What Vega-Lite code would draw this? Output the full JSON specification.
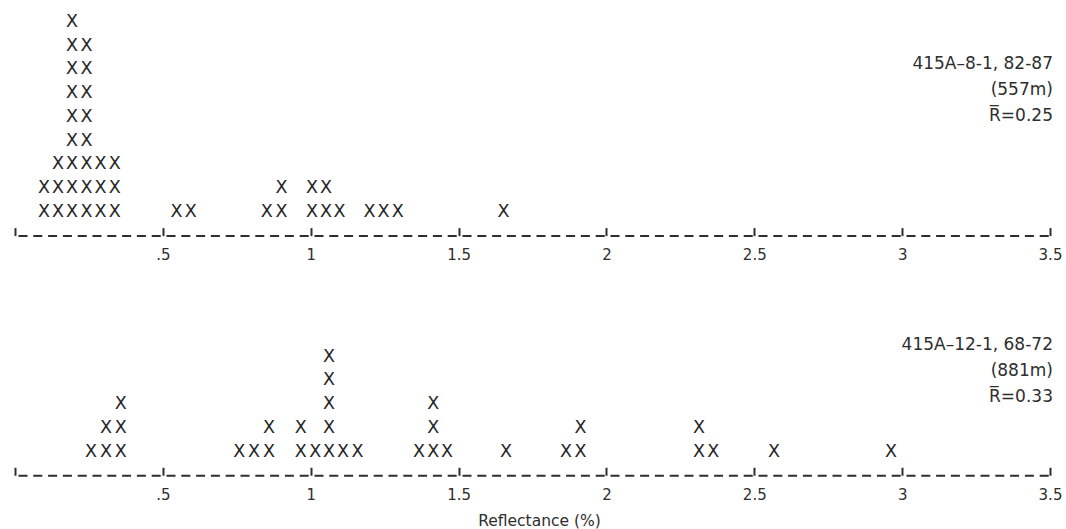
{
  "$schema": "https://vega.github.io/schema/vega-lite/v6.json",
  "background": "white",
  "padding": {"left": 14, "top": 10, "right": 0, "bottom": 0},
  "autosize": {"type": "pad"},
  "bounds": "flush",
  "spacing": 73,
  "config": {
    "view": {"stroke": null},
    "axis": {
      "grid": false,
      "domainColor": "#2e2e2e",
      "domainWidth": 2,
      "domainDash": [9, 5.8],
      "domainDashOffset": 11.8,
      "tickColor": "#2e2e2e",
      "tickWidth": 2,
      "tickSize": -8,
      "labelPadding": 20,
      "labelFont": "DejaVu Sans",
      "labelFontSize": 15,
      "labelColor": "#2e2e2e",
      "labelFlush": false,
      "labelOverlap": false,
      "titleFont": "DejaVu Sans",
      "titleFontSize": 15.5,
      "titleFontWeight": "normal",
      "titleColor": "#2e2e2e"
    }
  },
  "datasets": {
    "top": [
      {"r": 0.098, "k": 1}, {"r": 0.098, "k": 2},
      {"r": 0.145, "k": 1}, {"r": 0.145, "k": 2}, {"r": 0.145, "k": 3},
      {"r": 0.193, "k": 1}, {"r": 0.193, "k": 2}, {"r": 0.193, "k": 3}, {"r": 0.193, "k": 4}, {"r": 0.193, "k": 5}, {"r": 0.193, "k": 6}, {"r": 0.193, "k": 7}, {"r": 0.193, "k": 8}, {"r": 0.193, "k": 9},
      {"r": 0.242, "k": 1}, {"r": 0.242, "k": 2}, {"r": 0.242, "k": 3}, {"r": 0.242, "k": 4}, {"r": 0.242, "k": 5}, {"r": 0.242, "k": 6}, {"r": 0.242, "k": 7}, {"r": 0.242, "k": 8},
      {"r": 0.289, "k": 1}, {"r": 0.289, "k": 2}, {"r": 0.289, "k": 3},
      {"r": 0.337, "k": 1}, {"r": 0.337, "k": 2}, {"r": 0.337, "k": 3},
      {"r": 0.546, "k": 1},
      {"r": 0.594, "k": 1},
      {"r": 0.851, "k": 1},
      {"r": 0.901, "k": 1}, {"r": 0.901, "k": 2},
      {"r": 1.004, "k": 1}, {"r": 1.004, "k": 2},
      {"r": 1.052, "k": 1}, {"r": 1.052, "k": 2},
      {"r": 1.097, "k": 1},
      {"r": 1.199, "k": 1},
      {"r": 1.246, "k": 1},
      {"r": 1.294, "k": 1},
      {"r": 1.652, "k": 1}
    ],
    "bottom": [
      {"r": 0.257, "k": 1},
      {"r": 0.308, "k": 1}, {"r": 0.308, "k": 2},
      {"r": 0.358, "k": 1}, {"r": 0.358, "k": 2}, {"r": 0.358, "k": 3},
      {"r": 0.758, "k": 1},
      {"r": 0.808, "k": 1},
      {"r": 0.859, "k": 1}, {"r": 0.859, "k": 2},
      {"r": 0.966, "k": 1}, {"r": 0.966, "k": 2},
      {"r": 1.015, "k": 1},
      {"r": 1.062, "k": 1}, {"r": 1.062, "k": 2}, {"r": 1.062, "k": 3}, {"r": 1.062, "k": 4}, {"r": 1.062, "k": 5},
      {"r": 1.109, "k": 1},
      {"r": 1.158, "k": 1},
      {"r": 1.366, "k": 1},
      {"r": 1.414, "k": 1}, {"r": 1.414, "k": 2}, {"r": 1.414, "k": 3},
      {"r": 1.461, "k": 1},
      {"r": 1.66, "k": 1},
      {"r": 1.863, "k": 1},
      {"r": 1.912, "k": 1}, {"r": 1.912, "k": 2},
      {"r": 2.313, "k": 1}, {"r": 2.313, "k": 2},
      {"r": 2.361, "k": 1},
      {"r": 2.567, "k": 1},
      {"r": 2.962, "k": 1}
    ],
    "notesTop": [{"label": "415A–8-1, 82-87\n(557m)\nR̅=0.25"}],
    "notesBottom": [{"label": "415A–12-1, 68-72\n(881m)\nR̅=0.33"}]
  },
  "vconcat": [
    {
      "width": 1035,
      "height": 225.6,
      "layer": [
        {
          "data": {"name": "top"},
          "mark": {"type": "text", "font": "DejaVu Sans", "fontSize": 17.5, "color": "#262626", "align": "center", "baseline": "middle"},
          "encoding": {
            "x": {
              "field": "r", "type": "quantitative",
              "scale": {"domain": [0, 3.5], "nice": false, "zero": false},
              "axis": {
                "values": [0, 0.5, 1, 1.5, 2, 2.5, 3, 3.5],
                "format": "~g",
                "labelExpr": "datum.value == 0 ? '' : (datum.value == 0.5 ? '.5' : datum.label)",
                "title": null
              }
            },
            "y": {"field": "k", "type": "quantitative", "scale": {"domain": [0, 9.5], "nice": false}, "axis": null},
            "text": {"value": "X"}
          }
        },
        {
          "data": {"name": "notesTop"},
          "mark": {"type": "text", "font": "DejaVu Sans", "fontSize": 17, "color": "#2e2e2e", "align": "right", "baseline": "top", "lineBreak": "\n", "lineHeight": 26},
          "encoding": {
            "x": {"datum": 3.51, "type": "quantitative"},
            "y": {"datum": 7.56, "type": "quantitative"},
            "text": {"field": "label"}
          }
        }
      ]
    },
    {
      "width": 1035,
      "height": 166.25,
      "layer": [
        {
          "data": {"name": "bottom"},
          "mark": {"type": "text", "font": "DejaVu Sans", "fontSize": 17.5, "color": "#262626", "align": "center", "baseline": "middle"},
          "encoding": {
            "x": {
              "field": "r", "type": "quantitative",
              "scale": {"domain": [0, 3.5], "nice": false, "zero": false},
              "axis": {
                "values": [0, 0.5, 1, 1.5, 2, 2.5, 3, 3.5],
                "format": "~g",
                "labelExpr": "datum.value == 0 ? '' : (datum.value == 0.5 ? '.5' : datum.label)",
                "title": "Reflectance (%)",
                "titleX": 524,
                "titlePadding": 11
              }
            },
            "y": {"field": "k", "type": "quantitative", "scale": {"domain": [0, 7], "nice": false}, "axis": null},
            "text": {"value": "X"}
          }
        },
        {
          "data": {"name": "notesBottom"},
          "mark": {"type": "text", "font": "DejaVu Sans", "fontSize": 17, "color": "#2e2e2e", "align": "right", "baseline": "top", "lineBreak": "\n", "lineHeight": 26},
          "encoding": {
            "x": {"datum": 3.51, "type": "quantitative"},
            "y": {"datum": 5.83, "type": "quantitative"},
            "text": {"field": "label"}
          }
        }
      ]
    }
  ]
}
